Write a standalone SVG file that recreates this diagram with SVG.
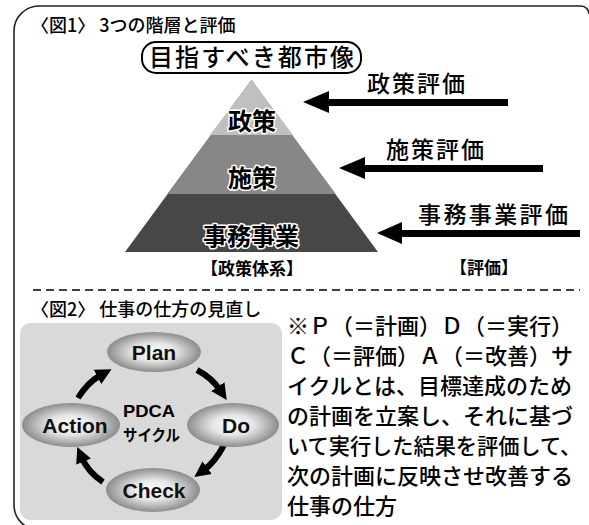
<svg xmlns="http://www.w3.org/2000/svg" width="589" height="525" viewBox="0 0 589 525">
<style>
.jp{font-family:"Noto Sans CJK JP","Noto Sans",sans-serif;fill:#000;font-weight:500}
.t18{font-size:18px}
.lbl{font-size:23px}
.pyr{font-size:24px;font-weight:bold;paint-order:stroke;stroke:#fff;stroke-width:3px;stroke-linejoin:round;text-anchor:middle}
.brk{font-size:17px;font-weight:bold;text-anchor:middle}
.body{font-size:22px}
.en{font-family:"Liberation Sans",Arial,sans-serif;font-weight:bold;font-size:21px;text-anchor:middle;fill:#111}
.ell{fill:url(#eg)}
.carr{fill:none;stroke:#000;stroke-width:6;marker-end:url(#ah)}
.hub{fill:#000;font-weight:bold}
</style>
<defs>
<radialGradient id="eg" cx="50%" cy="50%" r="50%">
<stop offset="0" stop-color="#ffffff"/>
<stop offset="0.45" stop-color="#e6e6e6"/>
<stop offset="1" stop-color="#8c8c8c"/>
</radialGradient>
<marker id="ah" markerUnits="userSpaceOnUse" markerWidth="18" markerHeight="18" refX="4" refY="9" orient="auto" viewBox="0 0 18 18">
<path d="M0,1 L16,9 L0,17 Z" fill="#000"/>
</marker>
</defs>

<path d="M589,14 A8,8 0 0 0 581,6 L39,6 A25,25 0 0 0 14,31 L14,505 A25,25 0 0 0 39,530" fill="none" stroke="#222" stroke-width="1.6"/>

<text class="jp t18" x="31" y="32">〈図1〉 3つの階層と評価</text>

<g id="goal">
<rect x="142" y="42" width="219" height="31" rx="14" fill="#fff" stroke="#000" stroke-width="2"/>
<text class="jp" x="251.5" y="66" font-size="24" text-anchor="middle" textLength="205" lengthAdjust="spacing">目指すべき都市像</text>
</g>

<g id="pyramid">
<polygon points="251.5,80 125,252 378,252" fill="#474747"/>
<polygon points="251.5,80 167.3,194 335.7,194" fill="#878787"/>
<polygon points="251.5,80 210,135 293,135" fill="#c0c0c0"/>
<text class="jp pyr" x="252" y="130">政策</text>
<text class="jp pyr" x="252" y="187">施策</text>
<text class="jp pyr" x="251" y="245">事務事業</text>
<text class="jp brk" x="252" y="275">【政策体系】</text>
</g>

<g id="connectors">
<polygon points="303,102 329,91 329,99 508,99 508,106 329,106 329,113" fill="#000"/>
<polygon points="339,168 365,157 365,165 543,165 543,172 365,172 365,179" fill="#000"/>
<polygon points="377,233 402,222 402,230 580,230 580,237 402,237 402,244" fill="#000"/>
</g>

<g id="eval-labels">
<text class="jp lbl" x="367" y="92" textLength="98" lengthAdjust="spacing">政策評価</text>
<text class="jp lbl" x="386" y="158" textLength="98" lengthAdjust="spacing">施策評価</text>
<text class="jp lbl" x="418" y="223" textLength="150" lengthAdjust="spacing">事務事業評価</text>
<text class="jp brk" x="484" y="274">【評価】</text>
</g>

<line x1="33" y1="290" x2="580" y2="290" stroke="#000" stroke-width="1.5" stroke-dasharray="8,5"/>

<text class="jp t18" x="31" y="316">〈図2〉 仕事の仕方の見直し</text>

<rect x="20" y="323" width="262" height="197" rx="11" fill="#d9d9d9"/>

<g id="pdca-arrows">
<path class="carr" d="M197,370 Q212,378 220,390"/>
<path class="carr" d="M224,445 Q215,462 204,470"/>
<path class="carr" d="M103,482 Q88,472 82,458"/>
<path class="carr" d="M78,398 Q88,382 101,375"/>
</g>

<g id="plan"><ellipse class="ell" cx="154" cy="352" rx="47" ry="20"/><text class="en" x="154" y="360">Plan</text></g>
<g id="do"><ellipse class="ell" cx="233" cy="425" rx="46" ry="22"/><text class="en" x="236" y="433">Do</text></g>
<g id="check"><ellipse class="ell" cx="153" cy="490" rx="47" ry="22"/><text class="en" x="154" y="498">Check</text></g>
<g id="action"><ellipse class="ell" cx="71" cy="425" rx="49" ry="22"/><text class="en" x="75" y="433">Action</text></g>

<g id="pdca-center">
<text class="hub" x="123" y="417" font-family="Liberation Sans, Arial, sans-serif" font-size="17" textLength="52" lengthAdjust="spacingAndGlyphs">PDCA</text>
<text class="hub" x="123" y="441" font-family="Noto Sans CJK JP, sans-serif" font-size="16" textLength="57" lengthAdjust="spacingAndGlyphs">サイクル</text>
</g>

<g id="note">
<text class="jp body" x="287" y="334">※Ｐ（＝計画）Ｄ（＝実行）</text>
<text class="jp body" x="287" y="364">Ｃ（＝評価）Ａ（＝改善）サ</text>
<text class="jp body" x="287" y="394">イクルとは、目標達成のため</text>
<text class="jp body" x="287" y="424">の計画を立案し、それに基づ</text>
<text class="jp" x="287" y="454" font-size="21.2">いて実行した結果を評価して、</text>
<text class="jp body" x="287" y="484">次の計画に反映させ改善する</text>
<text class="jp body" x="287" y="514">仕事の仕方</text>
</g>
</svg>
